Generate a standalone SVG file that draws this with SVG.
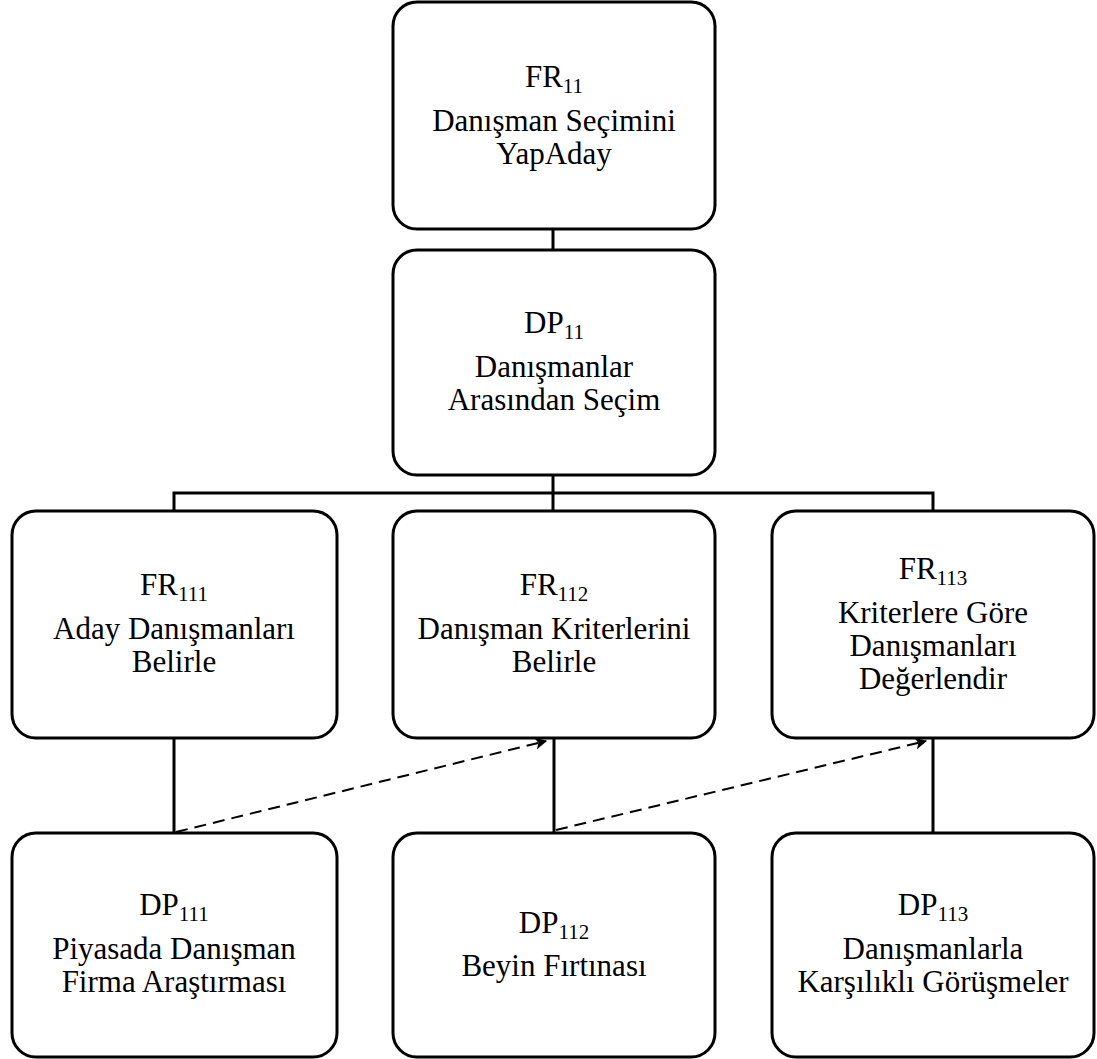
<svg xmlns="http://www.w3.org/2000/svg" width="1097" height="1059" viewBox="0 0 1097 1059">
  <style>
    .box { fill: #ffffff; stroke: #000000; stroke-width: 3; }
    .link { fill: none; stroke: #000000; stroke-width: 3; }
    .dep { fill: none; stroke: #000000; stroke-width: 2; stroke-dasharray: 12 7; }
    text { font-family: "Liberation Serif", "Times New Roman", serif; font-size: 31px; fill: #000000; text-anchor: middle; }
    .sub { font-size: 21px; }
  </style>
  <defs>
    <marker id="arrow" viewBox="0 0 10 10" refX="9" refY="5" markerWidth="6" markerHeight="6" orient="auto" markerUnits="strokeWidth">
      <path d="M0,0 L10,5 L0,10 L2.5,5 Z" fill="#000000"/>
    </marker>
  </defs>

  <!-- tree connectors and design-matrix dependencies -->
  <g id="connectors">
    <line class="link" x1="553" y1="229" x2="553" y2="250"/>
    <polyline class="link" points="553,475 553,493"/>
    <polyline class="link" points="174,511 174,493 933,493 933,511"/>
    <line class="link" x1="553" y1="493" x2="553" y2="511"/>
    <line class="link" x1="174" y1="738" x2="174" y2="833"/>
    <line class="link" x1="554" y1="738" x2="554" y2="833"/>
    <line class="link" x1="933" y1="738" x2="933" y2="833"/>
    <line class="dep" x1="176" y1="832" x2="546" y2="741" marker-end="url(#arrow)"/>
    <line class="dep" x1="556" y1="830" x2="926" y2="741" marker-end="url(#arrow)"/>
  </g>

  <g id="fr11">
    <rect class="box" x="393" y="2" width="322" height="227" rx="24"/>
    <text x="554" y="87">FR<tspan class="sub" dy="6">11</tspan></text>
    <text x="554" y="131">Danışman Seçimini</text>
    <text x="554" y="164">YapAday</text>
  </g>

  <g id="dp11">
    <rect class="box" x="393" y="250" width="322" height="225" rx="24"/>
    <text x="554" y="333">DP<tspan class="sub" dy="6">11</tspan></text>
    <text x="554" y="377">Danışmanlar</text>
    <text x="554" y="410">Arasından Seçim</text>
  </g>

  <g id="fr111">
    <rect class="box" x="12" y="511" width="325" height="227" rx="24"/>
    <text x="174" y="595">FR<tspan class="sub" dy="6">111</tspan></text>
    <text x="174" y="639">Aday Danışmanları</text>
    <text x="174" y="672">Belirle</text>
  </g>

  <g id="fr112">
    <rect class="box" x="393" y="511" width="322" height="227" rx="24"/>
    <text x="554" y="595">FR<tspan class="sub" dy="6">112</tspan></text>
    <text x="554" y="639">Danışman Kriterlerini</text>
    <text x="554" y="672">Belirle</text>
  </g>

  <g id="fr113">
    <rect class="box" x="772" y="511" width="322" height="227" rx="24"/>
    <text x="933" y="579">FR<tspan class="sub" dy="6">113</tspan></text>
    <text x="933" y="623">Kriterlere Göre</text>
    <text x="933" y="656">Danışmanları</text>
    <text x="933" y="689">Değerlendir</text>
  </g>

  <g id="dp111">
    <rect class="box" x="12" y="833" width="325" height="224" rx="24"/>
    <text x="174" y="915">DP<tspan class="sub" dy="6">111</tspan></text>
    <text x="174" y="959">Piyasada Danışman</text>
    <text x="174" y="992">Firma Araştırması</text>
  </g>

  <g id="dp112">
    <rect class="box" x="393" y="833" width="322" height="224" rx="24"/>
    <text x="554" y="933">DP<tspan class="sub" dy="6">112</tspan></text>
    <text x="554" y="976">Beyin Fırtınası</text>
  </g>

  <g id="dp113">
    <rect class="box" x="772" y="833" width="322" height="224" rx="24"/>
    <text x="933" y="915">DP<tspan class="sub" dy="6">113</tspan></text>
    <text x="933" y="959">Danışmanlarla</text>
    <text x="933" y="992">Karşılıklı Görüşmeler</text>
  </g>
</svg>
